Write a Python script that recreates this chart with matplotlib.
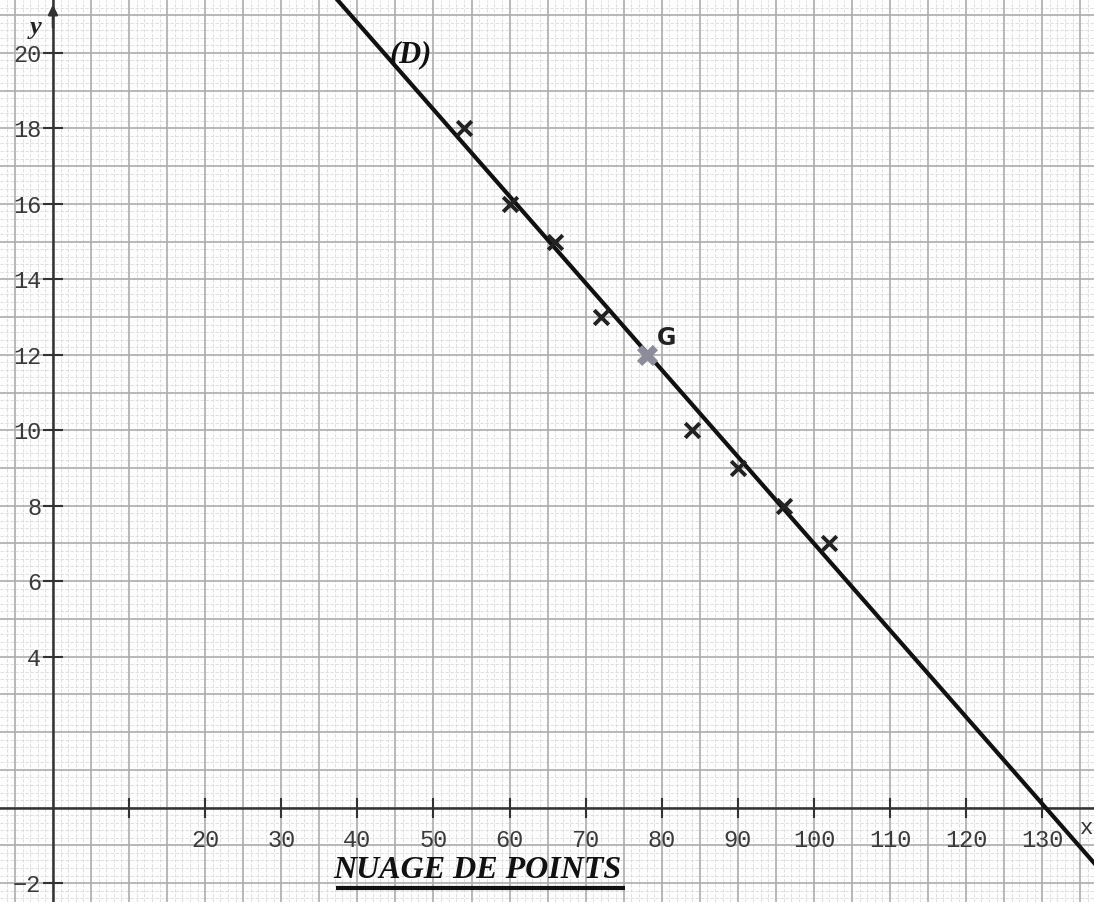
import numpy as np
import matplotlib
matplotlib.use("Agg")
import matplotlib.pyplot as plt
from matplotlib.ticker import FixedLocator

# data
x_vals = [54, 60, 66, 72, 84, 90, 96, 102]
y_vals = [18, 16, 15, 13, 10, 9, 8, 7]
g_point = (78, 12)
slope, intercept = -0.23, 30.0
x_ticks = [10, 20, 30, 40, 50, 60, 70, 80, 90, 100, 110, 120, 130]
x_tick_labels = ["", "20", "30", "40", "50", "60", "70", "80", "90", "100", "110", "120", "130"]
y_ticks = [-2, 4, 6, 8, 10, 12, 14, 16, 18, 20]
y_tick_labels = ["−2", "4", "6", "8", "10", "12", "14", "16", "18", "20"]

fig = plt.figure(figsize=(10.94, 9.02), dpi=100)
ax = fig.add_axes([0, 0, 1, 1])
xmin, xmax = -6.96, 136.8
ymin, ymax = -2.50, 21.40
ax.set_xlim(xmin, xmax)
ax.set_ylim(ymin, ymax)
fig.patch.set_facecolor("#fdfdfd")
ax.set_facecolor("#fdfdfd")

# graph paper
for xv in np.arange(-6, 137, 1):
    if xv % 5 == 0:
        continue
    ax.axvline(xv, color="#dadada", lw=0.6, ls=(0, (4, 2)), zorder=0)
for yv in np.arange(-2.4, 21.4, 0.2):
    if abs(yv - round(yv)) < 1e-6:
        continue
    ax.axhline(yv, color="#dadada", lw=0.6, ls=(0, (4, 2)), zorder=0)
for xv in np.arange(-5, 137, 5):
    ax.axvline(xv, color="#acacac", lw=1.2, zorder=0.5)
for yv in np.arange(-2, 22, 1):
    ax.axhline(yv, color="#acacac", lw=1.2, zorder=0.5)

# axes through origin
for s in ["top", "right"]:
    ax.spines[s].set_visible(False)
ax.spines["left"].set_position(("data", 0))
ax.spines["bottom"].set_position(("data", 0))
for s in ["left", "bottom"]:
    ax.spines[s].set_color("#333333")
    ax.spines[s].set_linewidth(1.8)
ax.xaxis.set_major_locator(FixedLocator(x_ticks))
ax.set_xticklabels(x_tick_labels)
ax.yaxis.set_major_locator(FixedLocator(y_ticks))
ax.set_yticklabels(y_tick_labels)
mono = "Liberation Mono"
ax.tick_params(axis="both", direction="inout", length=15, width=1.5, color="#333333",
               labelsize=17, labelcolor="#3a3a3a")
for lab in ax.get_xticklabels() + ax.get_yticklabels():
    lab.set_fontfamily(mono)
ax.tick_params(axis="x", pad=8)
ax.tick_params(axis="y", pad=1)

# arrow on y axis
ax.annotate("", xy=(0, 21.35), xytext=(0, 20.6),
            arrowprops=dict(arrowstyle="-|>", color="#333333", lw=1.8, mutation_scale=14))
ax.text(-2.3, 20.68, "y", fontsize=19, fontstyle="italic", fontweight="bold",
        family="Liberation Serif", color="#222222", ha="center", va="center")
ax.text(135.0, -0.55, "x", fontsize=16, family=mono, color="#333333", ha="left", va="center")

# regression line (D)
xl = np.array([30, 140])
ax.plot(xl, slope * xl + intercept, color="#111111", lw=3, zorder=5)
ax.text(47.0, 19.95, "(D)", fontsize=22, fontstyle="italic", fontweight="bold",
        family="Liberation Serif", color="#111111", ha="center", va="center", zorder=6)

# scatter
ax.scatter(x_vals, y_vals, marker="x", s=110, color="#222222", linewidths=2.8, zorder=6)
ax.scatter([g_point[0]], [g_point[1]], marker="X", s=230, color="#8c8c9a", linewidths=0, zorder=7)
ax.text(79.4, 12.45, "G", fontsize=17, fontweight="bold", family="DejaVu Sans",
        color="#222222", ha="left", va="center", zorder=7)

# title
ax.text(55.8, -1.66, "NUAGE DE POINTS", fontsize=23, fontstyle="italic", fontweight="bold",
        family="Liberation Serif", color="#111111", ha="center", va="center", zorder=7)
ax.plot([37.2, 75.2], [-2.14, -2.14], color="#111111", lw=3, zorder=7, solid_capstyle="butt")

fig.savefig("out.png", dpi=100, facecolor=fig.get_facecolor())
